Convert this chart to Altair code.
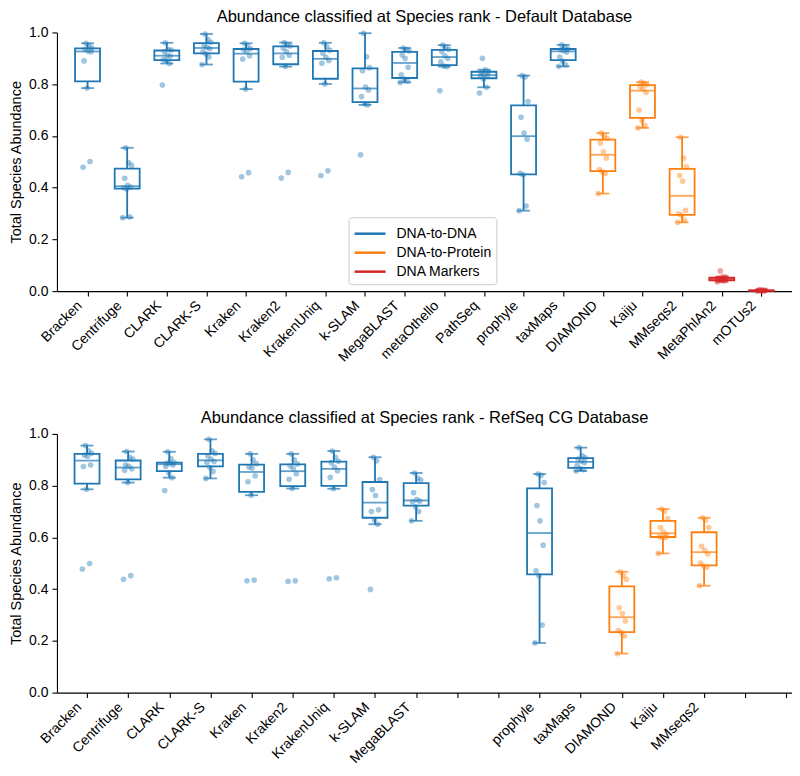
import altair as alt
import pandas as pd

tools = ["Bracken", "Centrifuge", "CLARK", "CLARK-S", "Kraken", "Kraken2", "KrakenUniq",
         "k-SLAM", "MegaBLAST", "metaOthello", "PathSeq", "prophyle", "taxMaps",
         "DIAMOND", "Kaiju", "MMseqs2", "MetaPhlAn2", "mOTUs2"]
tool_groups = ["DNA-to-DNA"] * 13 + ["DNA-to-Protein"] * 3 + ["DNA Markers"] * 2
group_names = ["DNA-to-DNA", "DNA-to-Protein", "DNA Markers"]
group_colors = ["#1f77b4", "#ff7f0e", "#d62728"]

title_default = "Abundance classified at Species rank - Default Database"
title_refseq = "Abundance classified at Species rank - RefSeq CG Database"
y_title = "Total Species Abundance"
y_ticks = [0.0, 0.2, 0.4, 0.6, 0.8, 1.0]

default_db = {
    "Bracken":     [0.479, 0.501, 0.785, 0.890, 0.925, 0.928, 0.935, 0.940, 0.950, 0.958],
    "Centrifuge":  [0.284, 0.287, 0.395, 0.400, 0.402, 0.409, 0.436, 0.486, 0.496, 0.554],
    "CLARK":       [0.797, 0.880, 0.892, 0.895, 0.908, 0.912, 0.925, 0.932, 0.935, 0.960],
    "CLARK-S":     [0.876, 0.905, 0.917, 0.925, 0.937, 0.943, 0.950, 0.962, 0.972, 0.994],
    "Kraken":      [0.442, 0.458, 0.781, 0.897, 0.910, 0.926, 0.933, 0.937, 0.948, 0.958],
    "Kraken2":     [0.437, 0.459, 0.868, 0.904, 0.912, 0.926, 0.940, 0.948, 0.952, 0.961],
    "KrakenUniq":  [0.447, 0.465, 0.801, 0.881, 0.892, 0.904, 0.920, 0.931, 0.945, 0.960],
    "k-SLAM":      [0.527, 0.720, 0.724, 0.752, 0.778, 0.789, 0.852, 0.864, 0.906, 0.997],
    "MegaBLAST":   [0.807, 0.812, 0.820, 0.836, 0.865, 0.899, 0.913, 0.929, 0.935, 0.940],
    "metaOthello": [0.775, 0.868, 0.870, 0.886, 0.900, 0.910, 0.927, 0.935, 0.942, 0.951],
    "PathSeq":     [0.766, 0.788, 0.820, 0.832, 0.833, 0.837, 0.845, 0.849, 0.856, 0.900],
    "prophyle":    [0.311, 0.329, 0.450, 0.455, 0.587, 0.611, 0.672, 0.733, 0.828, 0.833],
    "taxMaps":     [0.869, 0.874, 0.889, 0.905, 0.924, 0.930, 0.933, 0.937, 0.945, 0.952],
    "DIAMOND":     [0.377, 0.455, 0.462, 0.470, 0.515, 0.539, 0.573, 0.590, 0.600, 0.611],
    "Kaiju":       [0.631, 0.640, 0.660, 0.700, 0.768, 0.782, 0.790, 0.798, 0.803, 0.808],
    "MMseqs2":     [0.266, 0.274, 0.293, 0.299, 0.312, 0.425, 0.447, 0.481, 0.514, 0.595],
    "MetaPhlAn2":  [0.036, 0.039, 0.041, 0.045, 0.047, 0.049, 0.050, 0.053, 0.056, 0.078],
    "mOTUs2":      [0.000, 0.001, 0.001, 0.002, 0.002, 0.002, 0.003, 0.003, 0.004, 0.006],
}

refseq_db = {
    "Bracken":     [0.478, 0.499, 0.786, 0.874, 0.880, 0.914, 0.918, 0.925, 0.935, 0.955],
    "Centrifuge":  [0.438, 0.452, 0.812, 0.860, 0.865, 0.875, 0.880, 0.903, 0.910, 0.932],
    "CLARK":       [0.781, 0.831, 0.850, 0.874, 0.880, 0.886, 0.887, 0.890, 0.905, 0.931],
    "CLARK-S":     [0.828, 0.855, 0.870, 0.890, 0.893, 0.903, 0.916, 0.925, 0.935, 0.979],
    "Kraken":      [0.432, 0.435, 0.763, 0.815, 0.838, 0.868, 0.872, 0.885, 0.900, 0.923],
    "Kraken2":     [0.430, 0.432, 0.789, 0.825, 0.846, 0.866, 0.876, 0.884, 0.900, 0.923],
    "KrakenUniq":  [0.440, 0.444, 0.788, 0.832, 0.858, 0.872, 0.889, 0.894, 0.910, 0.934],
    "k-SLAM":      [0.399, 0.651, 0.668, 0.700, 0.707, 0.762, 0.785, 0.824, 0.896, 0.910],
    "MegaBLAST":   [0.664, 0.700, 0.718, 0.738, 0.740, 0.746, 0.773, 0.822, 0.829, 0.849],
    "prophyle":    [0.192, 0.261, 0.452, 0.471, 0.570, 0.664, 0.723, 0.812, 0.840, 0.845],
    "taxMaps":     [0.857, 0.862, 0.866, 0.878, 0.889, 0.895, 0.903, 0.908, 0.915, 0.947],
    "DIAMOND":     [0.151, 0.219, 0.232, 0.240, 0.277, 0.306, 0.328, 0.438, 0.452, 0.467],
    "Kaiju":       [0.538, 0.600, 0.601, 0.603, 0.611, 0.621, 0.638, 0.673, 0.700, 0.710],
    "MMseqs2":     [0.413, 0.485, 0.489, 0.501, 0.536, 0.550, 0.566, 0.638, 0.667, 0.676],
}


def to_frame(db):
    rows = []
    for i, (t, g) in enumerate(zip(tools, tool_groups)):
        for k, v in enumerate(db.get(t, [])):
            rows.append({"tool": t, "idx": i, "group": g, "k": k, "v": v})
    return pd.DataFrame(rows)


FONT = "Liberation Sans"


def panel(db, title, xdom, legend):
    df = to_frame(db)
    names = [t if t in db else "" for t in tools]
    label_expr = "[" + ",".join("'" + n + "'" for n in names) + "][datum.value]"
    xs = alt.Scale(domain=xdom, nice=False, zero=False)
    ys = alt.Scale(domain=[0, 1], nice=False, zero=False)
    xa = alt.Axis(values=list(range(len(tools))), labelExpr=label_expr, labelAngle=-45,
                  labelAlign="right", labelBaseline="middle", labelOffset=-8, labelPadding=7,
                  labelOverlap=False, labelFlush=False, title=None, grid=False, tickSize=5,
                  labelFontSize=14)
    ya = alt.Axis(values=y_ticks, format=".1f", title=y_title, grid=False, tickSize=5,
                  labelPadding=4, titlePadding=5, labelFontSize=14, titleFontSize=14.5,
                  titleFontWeight="normal")
    cs = alt.Scale(domain=group_names, range=group_colors)

    def X(f):
        return alt.X(f, scale=xs, axis=xa)

    def Y(f):
        return alt.Y(f, scale=ys, axis=ya)

    base = alt.Chart(df)
    stats = (
        base.transform_joinaggregate(q1="q1(v)", q3="q3(v)", med="median(v)", groupby=["tool"])
        .transform_calculate(lo="datum.q1 - 1.5*(datum.q3 - datum.q1)",
                             hi="datum.q3 + 1.5*(datum.q3 - datum.q1)")
        .transform_filter("datum.v >= datum.lo && datum.v <= datum.hi")
        .transform_aggregate(wmin="min(v)", wmax="max(v)", q1="max(q1)", q3="max(q3)",
                             med="max(med)", groupby=["tool", "idx", "group"])
    )
    whisk = stats.mark_rule(strokeWidth=1.8).encode(
        x=X("idx:Q"), y=Y("wmin:Q"), y2="wmax:Q",
        color=alt.Color("group:N", scale=cs, legend=legend))
    box = stats.mark_bar(size=25, fill="white", strokeWidth=1.8).encode(
        x=X("idx:Q"), y=Y("q1:Q"), y2="q3:Q",
        stroke=alt.Stroke("group:N", scale=cs, legend=None))
    med = stats.mark_tick(orient="horizontal", size=25, thickness=1.8).encode(
        x=X("idx:Q"), y=Y("med:Q"), color=alt.Color("group:N", scale=cs, legend=None))
    cap_lo = stats.mark_tick(orient="horizontal", size=13, thickness=1.8).encode(
        x=X("idx:Q"), y=Y("wmin:Q"), color=alt.Color("group:N", scale=cs, legend=None))
    cap_hi = stats.mark_tick(orient="horizontal", size=13, thickness=1.8).encode(
        x=X("idx:Q"), y=Y("wmax:Q"), color=alt.Color("group:N", scale=cs, legend=None))
    pts = base.transform_calculate(
        xj="datum.idx + (((datum.k * 7) % 10) - 4.5) * 0.025"
    ).mark_circle(size=32, opacity=0.42).encode(
        x=X("xj:Q"), y=Y("v:Q"), color=alt.Color("group:N", scale=cs, legend=None))

    return alt.layer(whisk, box, med, cap_lo, cap_hi, pts).properties(
        width=736, height=259,
        title=alt.TitleParams(title, fontSize=16.5, fontWeight="normal", offset=0,
                              anchor="middle", color="black", font=FONT))


legend_top = alt.Legend(title=None, orient="none", legendX=292, legendY=185,
                        symbolType="M-1.55,0H1.55", symbolSize=400, symbolStrokeWidth=2.5,
                        symbolOffset=5, labelFontSize=14, labelFont=FONT, labelColor="black",
                        padding=5, rowPadding=0, labelOffset=15,
                        strokeColor="#cccccc", fillColor="white", cornerRadius=3)

top = panel(default_db, title_default, [-0.646, 17.646], legend_top)
bottom = panel(refseq_db, title_refseq, [-0.61, 17.015], None)

chart = (
    alt.vconcat(top, bottom, spacing=45)
    .resolve_scale(x="independent", color="independent", stroke="independent")
    .properties(padding={"left": 0, "top": 0, "right": 0, "bottom": 0})
    .configure(font=FONT)
    .configure_view(stroke=None)
    .configure_axis(domainColor="black", tickColor="black", labelColor="black",
                    titleColor="black", labelFont=FONT, titleFont=FONT, domainWidth=1.1,
                    tickWidth=1.1)
)

chart.save("out.html", embed_options={"renderer": "svg", "actions": False})
